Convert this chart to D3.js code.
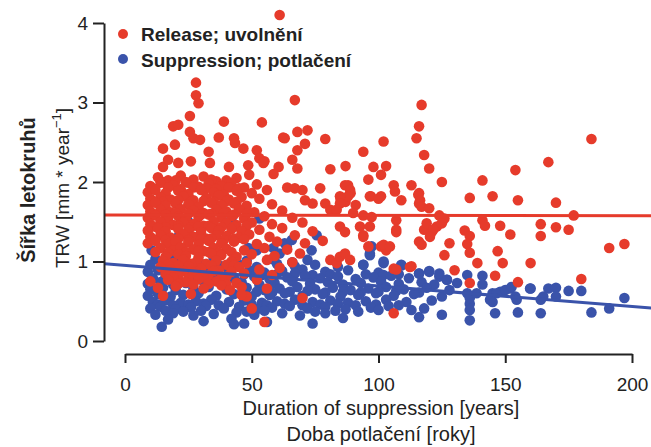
<!DOCTYPE html>
<html>
<head>
<meta charset="utf-8">
<script src="https://cdn.jsdelivr.net/npm/d3@7"></script>
<style>
body { margin: 0; background: #fff; }
text { font-family: "Liberation Sans", Arial, sans-serif; fill: #222; }
</style>
</head>
<body>
<svg id="chart" width="651" height="447"></svg>
<script>
var xTicks = [0, 50, 100, 150, 200];
var yTicks = [0, 1, 2, 3, 4];
var legendLabels = ["Release; uvolnění", "Suppression; potlačení"];

// release points [years, TRW]
var release = [
  [61,4.1],[28,3.25],[28,3.09],[29,2.99],[25.6,2.83],[39,2.76],[54,2.75],[19,2.70],[21,2.72],[25.6,2.63],
  [27,2.55],[29.6,2.53],[37,2.56],[43,2.55],[43.4,2.49],[46.7,2.42],[52,2.40],[53,2.30],[55,2.26],[62.4,2.56],
  [15,2.42],[19.7,2.47],[33,2.38],[15,2.19],[17,2.28],[21,2.24],[26,2.26],[33.5,2.24],[41,2.19],[48.6,2.21],
  [54.6,2.24],[60.6,2.19],[58.6,2.10],
  [67,3.03],[117,2.97],[116,2.70],[115,2.55],[118,2.34],[120,2.17],[125,2.0],[68,2.63],[72,2.65],[63,2.55],
  [71,2.48],[68,2.40],[79,2.54],[102,2.51],[94,2.38],[66,2.28],[68,2.17],[81,2.16],[87,2.20],[98,2.19],
  [103,2.20],[101,2.09],[96,2.03],[77,1.92],[88,1.96],[89,1.86],[106,1.96],[106.5,1.88],[109,1.77],[113,1.96],
  [116,1.86],[116,1.73],[64,1.93],[67,1.92],[70,1.9],[71,1.77],[74,1.73],[79,1.73],[85,1.79],[87,1.75],
  [91,1.71],[97,1.82],[101,1.82],
  [184,2.54],[167,2.25],[154,2.15],[141,2.02],[136,1.80],[145,1.82],[155,1.77],[170,1.74],[177,1.58],[141,1.52],
  [142,1.45],[148,1.45],[164,1.47],[170,1.43],[175,1.40],[134,1.39],[136,1.32],[152,1.34],[164,1.32],[135,1.22],
  [136,1.11],[147,1.13],[191,1.17],[197,1.22],[139,0.98],[149,0.98],[160,0.98],[146,0.82],[136,0.73],[155,0.74],
  [180,0.78],
  [116,1.25],[117,1.21],[128,1.23],[126,1.08],[130,0.89],[113,0.94],[106,0.91],[106,0.35],[70,0.54],[101,1.19],
  [103,1.14],[107,1.37],[118,1.40],[121,1.37],
  [86.8,1.96],[88.8,1.9],[88,1.82],[84.8,1.82],[84.8,1.73],[96.6,1.82],[100,1.79],[115.7,1.84],[116.4,1.77],[117,1.69],
  [120,1.67],[124,1.58],[126,1.54],[81,1.65],[83.5,1.65],[90,1.61],[94,1.58],[97.3,1.56],[107,1.52],[119,1.48],
  [123,1.44],[125,1.48],[84.8,1.44],[86.8,1.37],[92.7,1.44],[94,1.33],[96.6,1.44],[107,1.40],[121.6,1.40],[120.3,1.31],
  [94,1.31],[96,1.19],[102,1.21],[104.5,1.19],[81,1.02],[83.5,0.98],[84.8,1.06],[86.8,1.10],[88.8,1.02],[112.4,0.93],
  [107,0.90],
  [13,2.06],[17,2.02],[22,2.08],[27,2.03],[31,2.07],[36,2.01],[44,2.05],[49,2.09],
  [15,2.0],[20,2.02],[25,1.99],[34,2.03],[40,2.02],
  [10,1.95],[14,1.99],[19,1.96],[24,2.0],[29,1.94],[33,1.98],[38,1.95],[42,1.99],[47,1.93],[52,1.97],
  [11,1.92],[17,1.93],[22,1.91],[27,1.93],[32,1.92],[36,1.91],[41,1.93],[45,1.92],
  [9,1.87],[12,1.9],[16,1.86],[21,1.89],[25,1.85],[30,1.9],[35,1.87],[39,1.84],[44,1.89],[50,1.86],[56,1.9],
  [10,1.79],[14,1.81],[18,1.78],[23,1.82],[27,1.77],[32,1.8],[37,1.83],[41,1.78],[46,1.81],[53,1.79],
  [11,1.76],[15,1.75],[21,1.77],[26,1.75],[31,1.76],[35,1.75],[40,1.76],[44,1.75],
  [9,1.71],[12,1.74],[16,1.7],[20,1.73],[25,1.72],[29,1.69],[34,1.74],[38,1.71],[43,1.73],[48,1.7],[58,1.72],
  [10,1.63],[14,1.65],[18,1.62],[22,1.66],[27,1.64],[31,1.61],[36,1.65],[40,1.63],[45,1.66],[51,1.62],[62,1.64],
  [11,1.6],[16,1.59],[20,1.61],[25,1.6],[30,1.59],[34,1.6],[39,1.61],[43,1.59],[48,1.6],
  [9,1.55],[12,1.58],[17,1.54],[21,1.57],[24,1.53],[29,1.56],[33,1.59],[38,1.55],[42,1.57],[47,1.54],[55,1.57],[66,1.55],
  [10,1.47],[14,1.5],[19,1.46],[23,1.49],[27,1.47],[31,1.45],[35,1.5],[40,1.48],[44,1.46],[50,1.49],[58,1.47],[70,1.49],
  [11,1.44],[16,1.43],[21,1.45],[26,1.43],[29,1.44],[33,1.45],[38,1.43],[43,1.44],[48,1.45],
  [9,1.39],[13,1.42],[16,1.38],[21,1.41],[25,1.4],[30,1.37],[34,1.42],[37,1.39],[42,1.41],[46,1.38],[53,1.4],[62,1.42],[74,1.38],
  [10,1.31],[14,1.33],[18,1.3],[23,1.34],[27,1.31],[32,1.29],[36,1.33],[40,1.32],[45,1.3],[49,1.34],[57,1.31],[67,1.33],
  [11,1.28],[16,1.27],[21,1.29],[25,1.27],[30,1.28],[34,1.29],[39,1.27],[43,1.29],[47,1.28],
  [9,1.23],[12,1.26],[17,1.22],[20,1.25],[25,1.24],[29,1.21],[33,1.26],[38,1.23],[43,1.25],[52,1.22],[60,1.25],[71,1.23],[78,1.26],
  [14,1.17],[19,1.14],[22,1.18],[27,1.15],[31,1.13],[35,1.17],[40,1.16],[47,1.14],[55,1.17],[64,1.15],
  [12,1.12],[17,1.11],[24,1.12],[29,1.13],[33,1.12],[37,1.11],[42,1.12],
  [16,1.06],[21,1.09],[24,1.07],[29,1.05],[34,1.1],[38,1.08],[44,1.06],[50,1.09],[59,1.07],[69,1.1],
  [15,1.01],[19,0.98],[23,1.02],[28,0.99],[32,0.97],[36,1.01],[42,1.0],[48,0.98],[56,1.02],[66,0.99],
  [17,0.96],[21,0.95],[26,0.97],[34,0.95],[40,0.96],[43,0.95],
  [14,0.93],[18,0.9],[25,0.94],[30,0.91],[37,0.89],[45,0.93],[53,0.9],[61,0.92],
  [19,0.87],[23,0.88],[28,0.87],[35,0.88],[42,0.87],
  [16,0.85],[21,0.82],[27,0.86],[33,0.83],[40,0.81],[47,0.85],[58,0.83],
  [19,0.8],[25,0.79],[31,0.8],[38,0.79],
  [17,0.77],[24,0.74],[29,0.78],[36,0.75],[44,0.73],[52,0.77],
  [21,0.72],[27,0.71],[33,0.72],[40,0.71],
  [13,0.67],[20,0.69],[31,0.66],[38,0.7],[46,0.68],[56,0.66],
  [15,0.57],[26,0.59],[48,0.56],
  [50,0.41],[55,0.24],[46,0.58],[41.4,0.64],[10,0.75]
];

// suppression points [years, TRW]
var suppression = [
  [12,1.03],[20,1.0],[35,1.04],[48,1.01],[58,1.03],[66,0.99],[72,1.02],
  [10,0.96],[15,0.93],[22,0.95],[30,0.97],[38,0.94],[45,0.96],[52,0.93],[60,0.97],[67,0.94],[75,0.96],[84,0.93],[94,0.96],[109,0.95],
  [9,0.87],[13,0.89],[18,0.86],[25,0.88],[33,0.9],[41,0.87],[49,0.89],[55,0.86],[62,0.88],[70,0.9],[79,0.87],[88,0.89],[100,0.86],[116,0.85],[120,0.88],
  [47,0.84],[54,0.83],[60,0.84],[67,0.85],[74,0.83],[81,0.84],[95,0.84],[102,0.83],[108,0.84],
  [11,0.79],[16,0.81],[21,0.78],[28,0.8],[35,0.82],[43,0.79],[51,0.81],[57,0.78],[64,0.8],[71,0.82],[77,0.79],[84,0.81],[91,0.78],[98,0.8],[105,0.82],[112,0.79],[124,0.81],[127,0.77],
  [9,0.72],[14,0.74],[19,0.71],[24,0.73],[31,0.75],[38,0.72],[46,0.74],[53,0.71],[59,0.73],[66,0.75],[73,0.72],[80,0.74],[86,0.71],[93,0.73],[101,0.75],[108,0.72],[117,0.74],[122,0.71],[131,0.73],
  [10,0.65],[15,0.67],[20,0.64],[27,0.66],[33,0.68],[40,0.65],[48,0.67],[55,0.64],[61,0.66],[68,0.68],[75,0.65],[82,0.67],[89,0.64],[96,0.66],[103,0.68],[110,0.65],[119,0.67],[128,0.64],
  [52,0.62],[58,0.61],[65,0.62],[72,0.63],[79,0.61],[86,0.62],[93,0.61],[100,0.62],[107,0.63],[116,0.61],
  [9,0.57],[13,0.59],[18,0.56],[23,0.58],[29,0.6],[36,0.57],[43,0.59],[50,0.56],[57,0.58],[63,0.6],[70,0.57],[78,0.59],[85,0.56],[92,0.58],[99,0.6],[106,0.57],[114,0.59],[125,0.56],
  [11,0.49],[16,0.51],[22,0.48],[28,0.5],[34,0.52],[41,0.49],[47,0.51],[54,0.48],[60,0.5],[67,0.52],[74,0.49],[81,0.51],[88,0.48],[95,0.5],[103,0.52],[111,0.49],[121,0.51],
  [13,0.46],[19,0.45],[25,0.46],[31,0.47],[37,0.45],[50,0.46],[56,0.45],[63,0.47],[70,0.45],[77,0.46],[84,0.47],[91,0.45],[99,0.46],[108,0.45],
  [10,0.41],[14,0.43],[20,0.4],[26,0.42],[32,0.44],[39,0.41],[45,0.43],[52,0.4],[58,0.42],[65,0.44],[72,0.41],[79,0.43],[87,0.4],[97,0.42],[104,0.44],[118,0.41],
  [16,0.38],[23,0.37],[30,0.38],[48,0.37],[55,0.38],[75,0.37],[83,0.38],[92,0.37],
  [12,0.33],[19,0.35],[27,0.32],[35,0.34],[44,0.36],[51,0.33],[62,0.35],[69,0.32],[79,0.35],[86,0.29],[100,0.39],[113,0.39],[125,0.33],
  [17,0.27],[31,0.25],[42,0.28],[56,0.24],[74,0.22],[116,0.3],
  [14.5,0.18],[43,0.21],[47,0.22],
  [48.6,1.14],[52,1.14],[58.5,1.17],[61,1.10],[63.8,1.19],[42,1.54],[25,1.50],[21,1.31],[30,1.33],[53,1.54],
  [48.6,1.17],[19.7,1.06],[10.5,1.14],[63,1.23],[65.8,1.27],[75.6,1.33],[73.6,1.14],[96.6,1.10],[102,1.0],[96.6,1.08],
  [97.3,1.19],[94,0.96],[102,0.98],[109,0.96],[116,0.85],[120,0.87],[124,0.85],[127,0.77],[135,0.83],[141,0.82],
  [141,0.71],[135,0.60],[136,0.47],[136,0.39],[136,0.26],[145,0.60],[148,0.62],[145,0.49],[152,0.66],[154,0.56],
  [160,0.66],[164,0.52],[167,0.66],[170,0.67],[170,0.56],[175,0.63],[180,0.63],[146,0.35],[155,0.36],[164,0.35],
  [184,0.36],[191,0.41],[197,0.54],[136,0.54],[138.7,0.60],[144,0.52],[146.6,0.60],[150,0.64],[152.5,0.68],[159.8,0.66],
  [154.5,0.52],[165,0.56]
];

// fitted lines: [intercept, slope]
var releaseFit = [1.585, -0.00005];
var suppressionFit = [0.95, -0.00258];
var fitRange = [-8, 208];

var red = "#e63b2b", blue = "#3a53aa";

var svg = d3.select("#chart");

var x = d3.scaleLinear().domain([0, 200]).range([125, 632]);
var y = d3.scaleLinear().domain([0, 4]).range([341, 23]);

// points: suppression under release
svg.append("g").selectAll("circle")
  .data(suppression)
  .enter()
  .append("circle")
    .attr("cx", function(d) { return x(d[0]); })
    .attr("cy", function(d) { return y(d[1]); })
    .attr("r", 5.3)
    .attr("fill", blue);

svg.append("g").selectAll("circle")
  .data(release)
  .enter()
  .append("circle")
    .attr("cx", function(d) { return x(d[0]); })
    .attr("cy", function(d) { return y(d[1]); })
    .attr("r", 5.3)
    .attr("fill", red);

// regression lines
function fitLine(fit, color) {
  var line = d3.line()
    .x(function(d) { return x(d); })
    .y(function(d) { return y(fit[0] + fit[1] * d); });
  svg.append("path")
    .datum(fitRange)
    .attr("d", line)
    .attr("fill", "none")
    .attr("stroke", color)
    .attr("stroke-width", 3);
}
fitLine(releaseFit, red);
fitLine(suppressionFit, blue);

// axes
var xAxis = svg.append("g")
  .attr("transform", "translate(0,354)")
  .call(d3.axisBottom(x).tickValues(xTicks).tickFormat(d3.format("d"))
    .tickSize(9).tickSizeOuter(0).tickPadding(15));

var yAxis = svg.append("g")
  .attr("transform", "translate(104,0)")
  .call(d3.axisLeft(y).tickValues(yTicks).tickFormat(d3.format("d"))
    .tickSize(11).tickSizeOuter(0).tickPadding(5));

[xAxis, yAxis].forEach(function(ax) {
  ax.selectAll("path, line").attr("stroke", "#222").attr("stroke-width", 2);
  ax.selectAll("text").style("font-size", "19px");
});

// legend
legendLabels.forEach(function(label, i) {
  svg.append("circle")
    .attr("cx", 123)
    .attr("cy", 34 + i * 25)
    .attr("r", 5)
    .attr("fill", i == 0 ? red : blue);
  svg.append("text")
    .attr("x", 141)
    .attr("y", 41 + i * 25.5)
    .style("font-size", "19px")
    .style("font-weight", "bold")
    .text(label);
});

// axis titles
svg.append("text")
  .attr("x", 381)
  .attr("y", 415)
  .attr("text-anchor", "middle")
  .style("font-size", "20px")
  .text("Duration of suppression [years]");

svg.append("text")
  .attr("x", 381)
  .attr("y", 441)
  .attr("text-anchor", "middle")
  .style("font-size", "20px")
  .text("Doba potlačení [roky]");

svg.append("text")
  .attr("transform", "translate(35,190)rotate(-90)")
  .attr("text-anchor", "middle")
  .style("font-size", "20px")
  .style("font-weight", "bold")
  .text("Šířka letokruhů");

var trw = svg.append("text")
  .attr("transform", "translate(69,188)rotate(-90)")
  .attr("text-anchor", "middle")
  .style("font-size", "19px");
trw.append("tspan").text("TRW [mm * year");
trw.append("tspan").attr("dy", -8).style("font-size", "13px").text("−1");
trw.append("tspan").attr("dy", 8).text("]");
</script>
</body>
</html>
